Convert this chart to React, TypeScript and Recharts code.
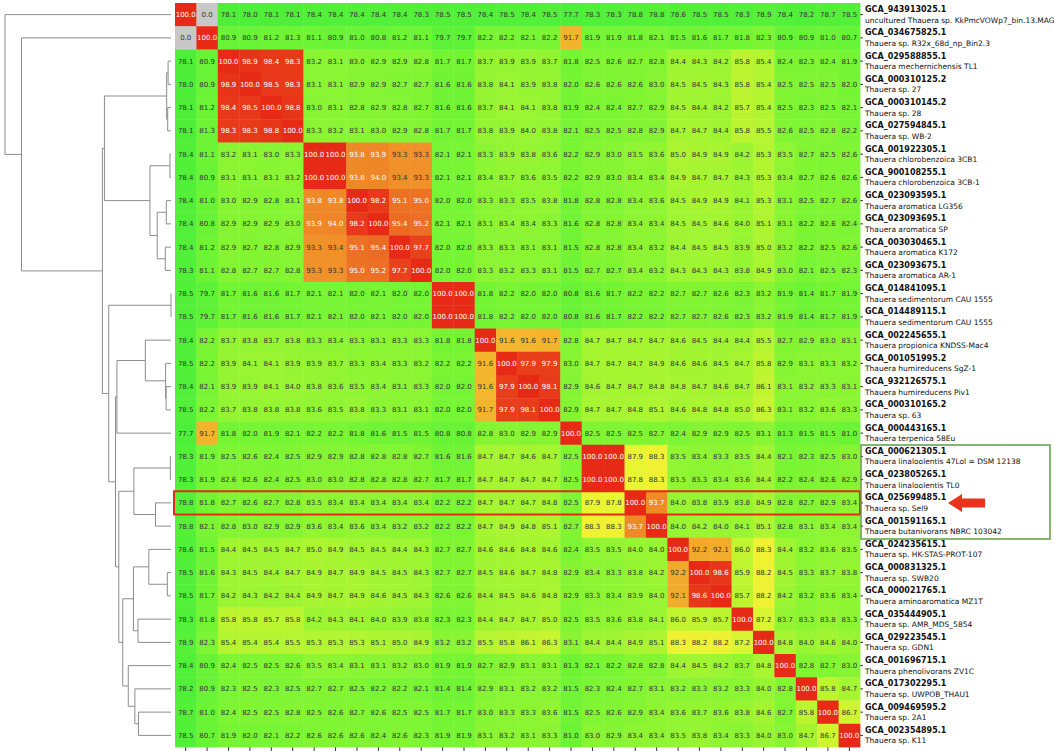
import React from "react";
import { ComposedChart, ScatterChart, Scatter, XAxis, YAxis } from "recharts";

const ids = [
  "GCA_943913025.1", "GCA_034675825.1", "GCA_029588855.1", "GCA_000310125.2", "GCA_000310145.2",
  "GCA_027594845.1", "GCA_001922305.1", "GCA_900108255.1", "GCA_023093595.1", "GCA_023093695.1",
  "GCA_003030465.1", "GCA_023093675.1", "GCA_014841095.1", "GCA_014489115.1", "GCA_002245655.1",
  "GCA_001051995.2", "GCA_932126575.1", "GCA_000310165.2", "GCA_000443165.1", "GCA_000621305.1",
  "GCA_023805265.1", "GCA_025699485.1", "GCA_001591165.1", "GCA_024235615.1", "GCA_000831325.1",
  "GCA_000021765.1", "GCA_035444905.1", "GCA_029223545.1", "GCA_001696715.1", "GCA_017302295.1",
  "GCA_009469595.2", "GCA_002354895.1",
];

const names = [
  "uncultured Thauera sp. KkPmcVOWp7_bin.13.MAG", "Thauera sp. R32x_68d_np_Bin2.3",
  "Thauera mechernichensis TL1", "Thauera sp. 27", "Thauera sp. 28", "Thauera sp. WB-2",
  "Thauera chlorobenzoica 3CB1", "Thauera chlorobenzoica 3CB-1", "Thauera aromatica LG356",
  "Thauera aromatica SP", "Thauera aromatica K172", "Thauera aromatica AR-1",
  "Thauera sedimentorum CAU 1555", "Thauera sedimentorum CAU 1555", "Thauera propionica KNDSS-Mac4",
  "Thauera humireducens SgZ-1", "Thauera humireducens Piv1", "Thauera sp. 63", "Thauera terpenica 58Eu",
  "Thauera linaloolentis 47Lol = DSM 12138", "Thauera linaloolentis TL0", "Thauera sp. Sel9",
  "Thauera butanivorans NBRC 103042", "Thauera sp. HK-STAS-PROT-107", "Thauera sp. SWB20",
  "Thauera aminoaromatica MZ1T", "Thauera sp. AMR_MDS_5854", "Thauera sp. GDN1",
  "Thauera phenolivorans ZV1C", "Thauera sp. UWPOB_THAU1", "Thauera sp. 2A1", "Thauera sp. K11",
];

// pairwise ANI (%)
const ani = [
  [100.0, 0.0, 78.1, 78.0, 78.1, 78.1, 78.4, 78.4, 78.4, 78.4, 78.4, 78.3, 78.5, 78.5, 78.4, 78.5, 78.4, 78.5, 77.7, 78.3, 78.3, 78.8, 78.8, 78.6, 78.5, 78.5, 78.3, 78.9, 78.4, 78.2, 78.7, 78.5],
  [0.0, 100.0, 80.9, 80.9, 81.2, 81.3, 81.1, 80.9, 81.0, 80.8, 81.2, 81.1, 79.7, 79.7, 82.2, 82.2, 82.1, 82.2, 91.7, 81.9, 81.9, 81.8, 82.1, 81.5, 81.6, 81.7, 81.8, 82.3, 80.9, 80.9, 81.0, 80.7],
  [78.1, 80.9, 100.0, 98.9, 98.4, 98.3, 83.2, 83.1, 83.0, 82.9, 82.9, 82.8, 81.7, 81.7, 83.7, 83.9, 83.9, 83.7, 81.8, 82.5, 82.6, 82.7, 82.8, 84.4, 84.3, 84.2, 85.8, 85.4, 82.4, 82.3, 82.4, 81.9],
  [78.0, 80.9, 98.9, 100.0, 98.5, 98.3, 83.1, 83.1, 82.9, 82.9, 82.7, 82.7, 81.6, 81.6, 83.8, 84.1, 83.9, 83.8, 82.0, 82.6, 82.6, 82.6, 83.0, 84.5, 84.5, 84.3, 85.8, 85.4, 82.5, 82.5, 82.5, 82.0],
  [78.1, 81.2, 98.4, 98.5, 100.0, 98.8, 83.0, 83.1, 82.8, 82.9, 82.8, 82.7, 81.6, 81.6, 83.7, 84.1, 84.1, 83.8, 81.9, 82.4, 82.4, 82.7, 82.9, 84.5, 84.4, 84.2, 85.7, 85.4, 82.5, 82.3, 82.5, 82.1],
  [78.1, 81.3, 98.3, 98.3, 98.8, 100.0, 83.3, 83.2, 83.1, 83.0, 82.9, 82.8, 81.7, 81.7, 83.8, 83.9, 84.0, 83.8, 82.1, 82.5, 82.5, 82.8, 82.9, 84.7, 84.7, 84.4, 85.8, 85.5, 82.6, 82.5, 82.8, 82.2],
  [78.4, 81.1, 83.2, 83.1, 83.0, 83.3, 100.0, 100.0, 93.8, 93.9, 93.3, 93.3, 82.1, 82.1, 83.3, 83.9, 83.8, 83.6, 82.2, 82.9, 83.0, 83.5, 83.6, 85.0, 84.9, 84.9, 84.2, 85.3, 83.5, 82.7, 82.5, 82.6],
  [78.4, 80.9, 83.1, 83.1, 83.1, 83.2, 100.0, 100.0, 93.8, 94.0, 93.4, 93.3, 82.1, 82.1, 83.4, 83.7, 83.6, 83.5, 82.2, 82.9, 83.0, 83.4, 83.4, 84.9, 84.7, 84.7, 84.3, 85.3, 83.4, 82.7, 82.6, 82.6],
  [78.4, 81.0, 83.0, 82.9, 82.8, 83.1, 93.8, 93.8, 100.0, 98.2, 95.1, 95.0, 82.0, 82.0, 83.3, 83.3, 83.5, 83.8, 81.8, 82.8, 82.8, 83.4, 83.6, 84.5, 84.9, 84.9, 84.1, 85.3, 83.1, 82.5, 82.7, 82.6],
  [78.4, 80.8, 82.9, 82.9, 82.9, 83.0, 93.9, 94.0, 98.2, 100.0, 95.4, 95.2, 82.1, 82.1, 83.1, 83.4, 83.4, 83.3, 81.6, 82.8, 82.8, 83.4, 83.4, 84.5, 84.5, 84.6, 84.0, 85.1, 83.1, 82.2, 82.6, 82.4],
  [78.4, 81.2, 82.9, 82.7, 82.8, 82.9, 93.3, 93.4, 95.1, 95.4, 100.0, 97.7, 82.0, 82.0, 83.3, 83.3, 83.1, 83.1, 81.5, 82.8, 82.8, 83.4, 83.2, 84.4, 84.5, 84.5, 83.9, 85.0, 83.2, 82.2, 82.5, 82.6],
  [78.3, 81.1, 82.8, 82.7, 82.7, 82.8, 93.3, 93.3, 95.0, 95.2, 97.7, 100.0, 82.0, 82.0, 83.3, 83.2, 83.3, 83.1, 81.5, 82.7, 82.7, 83.4, 83.2, 84.3, 84.3, 84.3, 83.8, 84.9, 83.0, 82.1, 82.5, 82.3],
  [78.5, 79.7, 81.7, 81.6, 81.6, 81.7, 82.1, 82.1, 82.0, 82.1, 82.0, 82.0, 100.0, 100.0, 81.8, 82.2, 82.0, 82.0, 80.8, 81.6, 81.7, 82.2, 82.2, 82.7, 82.7, 82.6, 82.3, 83.2, 81.9, 81.4, 81.7, 81.9],
  [78.5, 79.7, 81.7, 81.6, 81.6, 81.7, 82.1, 82.1, 82.0, 82.1, 82.0, 82.0, 100.0, 100.0, 81.8, 82.2, 82.0, 82.0, 80.8, 81.6, 81.7, 82.2, 82.2, 82.7, 82.7, 82.6, 82.3, 83.2, 81.9, 81.4, 81.7, 81.9],
  [78.4, 82.2, 83.7, 83.8, 83.7, 83.8, 83.3, 83.4, 83.3, 83.1, 83.3, 83.3, 81.8, 81.8, 100.0, 91.6, 91.6, 91.7, 82.8, 84.7, 84.7, 84.7, 84.7, 84.6, 84.5, 84.4, 84.4, 85.5, 82.7, 82.9, 83.0, 83.1],
  [78.5, 82.2, 83.9, 84.1, 84.1, 83.9, 83.9, 83.7, 83.3, 83.4, 83.3, 83.2, 82.2, 82.2, 91.6, 100.0, 97.9, 97.9, 83.0, 84.7, 84.7, 84.7, 84.9, 84.6, 84.6, 84.5, 84.7, 85.8, 82.9, 83.1, 83.3, 83.2],
  [78.4, 82.1, 83.9, 83.9, 84.1, 84.0, 83.8, 83.6, 83.5, 83.4, 83.1, 83.3, 82.0, 82.0, 91.6, 97.9, 100.0, 98.1, 82.9, 84.6, 84.7, 84.7, 84.8, 84.8, 84.7, 84.6, 84.7, 86.1, 83.1, 83.2, 83.3, 83.1],
  [78.5, 82.2, 83.7, 83.8, 83.8, 83.8, 83.6, 83.5, 83.8, 83.3, 83.1, 83.1, 82.0, 82.0, 91.7, 97.9, 98.1, 100.0, 82.9, 84.7, 84.7, 84.8, 85.1, 84.6, 84.8, 84.8, 85.0, 86.3, 83.1, 83.2, 83.6, 83.3],
  [77.7, 91.7, 81.8, 82.0, 81.9, 82.1, 82.2, 82.2, 81.8, 81.6, 81.5, 81.5, 80.8, 80.8, 82.8, 83.0, 82.9, 82.9, 100.0, 82.5, 82.5, 82.5, 82.7, 82.4, 82.9, 82.9, 82.5, 83.1, 81.3, 81.5, 81.5, 81.0],
  [78.3, 81.9, 82.5, 82.6, 82.4, 82.5, 82.9, 82.9, 82.8, 82.8, 82.8, 82.7, 81.6, 81.6, 84.7, 84.7, 84.6, 84.7, 82.5, 100.0, 100.0, 87.9, 88.3, 83.5, 83.4, 83.3, 83.5, 84.4, 82.1, 82.3, 82.5, 83.0],
  [78.3, 81.9, 82.6, 82.6, 82.4, 82.5, 83.0, 83.0, 82.8, 82.8, 82.8, 82.7, 81.7, 81.7, 84.7, 84.7, 84.7, 84.7, 82.5, 100.0, 100.0, 87.8, 88.3, 83.5, 83.3, 83.4, 83.6, 84.4, 82.2, 82.4, 82.6, 82.9],
  [78.8, 81.8, 82.7, 82.6, 82.7, 82.8, 83.5, 83.4, 83.4, 83.4, 83.4, 83.4, 82.2, 82.2, 84.7, 84.7, 84.7, 84.8, 82.5, 87.9, 87.8, 100.0, 93.7, 84.0, 83.8, 83.9, 83.8, 84.9, 82.8, 82.7, 82.9, 83.4],
  [78.8, 82.1, 82.8, 83.0, 82.9, 82.9, 83.6, 83.4, 83.6, 83.4, 83.2, 83.2, 82.2, 82.2, 84.7, 84.9, 84.8, 85.1, 82.7, 88.3, 88.3, 93.7, 100.0, 84.0, 84.2, 84.0, 84.1, 85.1, 82.8, 83.1, 83.4, 83.4],
  [78.6, 81.5, 84.4, 84.5, 84.5, 84.7, 85.0, 84.9, 84.5, 84.5, 84.4, 84.3, 82.7, 82.7, 84.6, 84.6, 84.8, 84.6, 82.4, 83.5, 83.5, 84.0, 84.0, 100.0, 92.2, 92.1, 86.0, 88.3, 84.4, 83.2, 83.6, 83.5],
  [78.5, 81.6, 84.3, 84.5, 84.4, 84.7, 84.9, 84.7, 84.9, 84.5, 84.5, 84.3, 82.7, 82.7, 84.5, 84.6, 84.7, 84.8, 82.9, 83.4, 83.3, 83.8, 84.2, 92.2, 100.0, 98.6, 85.9, 88.2, 84.5, 83.3, 83.7, 83.8],
  [78.5, 81.7, 84.2, 84.3, 84.2, 84.4, 84.9, 84.7, 84.9, 84.6, 84.5, 84.3, 82.6, 82.6, 84.4, 84.5, 84.6, 84.8, 82.9, 83.3, 83.4, 83.9, 84.0, 92.1, 98.6, 100.0, 85.7, 88.2, 84.2, 83.2, 83.6, 83.4],
  [78.3, 81.8, 85.8, 85.8, 85.7, 85.8, 84.2, 84.3, 84.1, 84.0, 83.9, 83.8, 82.3, 82.3, 84.4, 84.7, 84.7, 85.0, 82.5, 83.5, 83.6, 83.8, 84.1, 86.0, 85.9, 85.7, 100.0, 87.2, 83.7, 83.3, 83.8, 83.3],
  [78.9, 82.3, 85.4, 85.4, 85.4, 85.5, 85.3, 85.3, 85.3, 85.1, 85.0, 84.9, 83.2, 83.2, 85.5, 85.8, 86.1, 86.3, 83.1, 84.4, 84.4, 84.9, 85.1, 88.3, 88.2, 88.2, 87.2, 100.0, 84.8, 84.0, 84.6, 84.0],
  [78.4, 80.9, 82.4, 82.5, 82.5, 82.6, 83.5, 83.4, 83.1, 83.1, 83.2, 83.0, 81.9, 81.9, 82.7, 82.9, 83.1, 83.1, 81.3, 82.1, 82.2, 82.8, 82.8, 84.4, 84.5, 84.2, 83.7, 84.8, 100.0, 82.8, 82.7, 83.0],
  [78.2, 80.9, 82.3, 82.5, 82.3, 82.5, 82.7, 82.7, 82.5, 82.2, 82.2, 82.1, 81.4, 81.4, 82.9, 83.1, 83.2, 83.2, 81.5, 82.3, 82.4, 82.7, 83.1, 83.2, 83.3, 83.2, 83.3, 84.0, 82.8, 100.0, 85.8, 84.7],
  [78.7, 81.0, 82.4, 82.5, 82.5, 82.8, 82.5, 82.6, 82.7, 82.6, 82.5, 82.5, 81.7, 81.7, 83.0, 83.3, 83.3, 83.6, 81.5, 82.5, 82.6, 82.9, 83.4, 83.6, 83.7, 83.6, 83.8, 84.6, 82.7, 85.8, 100.0, 86.7],
  [78.5, 80.7, 81.9, 82.0, 82.1, 82.2, 82.6, 82.6, 82.6, 82.4, 82.6, 82.3, 81.9, 81.9, 83.1, 83.2, 83.1, 83.3, 81.0, 83.0, 82.9, 83.4, 83.4, 83.5, 83.8, 83.4, 83.3, 84.0, 83.0, 84.7, 86.7, 100.0],
];

// dendrogram merges: [child a, child b, height]; ids >= 32 refer to earlier merges
const merges: [number, number, number][] = [
  [12, 13, 0.0], [19, 20, 0.37], [6, 7, 0.6], [2, 3, 1.68], [4, 5, 1.91], [24, 25, 2.14],
  [35, 36, 2.52], [8, 9, 2.75], [16, 17, 2.84], [15, 40, 3.13], [10, 11, 3.32], [39, 42, 8.0],
  [21, 22, 9.01], [34, 43, 12.23], [23, 37, 12.88], [14, 41, 14.91], [30, 31, 18.92], [26, 27, 19.17],
  [29, 48, 20.99], [33, 44, 21.56], [46, 49, 21.82], [28, 50, 24.82], [52, 53, 28.03], [51, 54, 30.33],
  [47, 18, 31.41], [56, 55, 32.23], [32, 57, 36.19], [38, 45, 38.67], [59, 58, 39.85], [1, 60, 86.84],
  [0, 61, 96.43],
];

const highlightRow = 21;

const W = 1054;
const H = 751;
const LEFT = 175;
const RIGHT_W = 194;
const TOP = 3;
const BOTTOM = 4;
const N = ids.length;
const PLOT_W = W - LEFT - RIGHT_W;
const CELL_W = PLOT_W / N;
const CELL_H = (H - TOP - BOTTOM) / N;
const FONT = "'DejaVu Sans', sans-serif";

const cells = ani.flatMap((row, r) => row.map((v, c) => ({ x: c + 0.5, y: r + 0.5, v })));
const centers = ids.map((_, i) => i + 0.5);

const stops: [number, number[]][] = [
  [77, [70, 238, 58]], [80, [95, 242, 55]], [82, [118, 245, 52]], [84, [152, 245, 50]],
  [86, [192, 245, 48]], [88, [236, 245, 50]], [89, [245, 232, 50]], [91.7, [243, 180, 45]],
  [93.5, [240, 142, 40]], [96, [235, 96, 32]], [98, [232, 60, 26]], [100, [230, 42, 22]],
];

function cellColor(v: number) {
  if (v < 50) return "#c8c8c8";
  if (v <= stops[0][0]) return `rgb(${stops[0][1].join(",")})`;
  for (let i = 1; i < stops.length; i++) {
    const [v1, c1] = stops[i];
    const [v0, c0] = stops[i - 1];
    if (v <= v1) {
      const t = (v - v0) / (v1 - v0);
      const c = c0.map((a, k) => Math.round(a + (c1[k] - a) * t));
      return `rgb(${c.join(",")})`;
    }
  }
  return `rgb(${stops[stops.length - 1][1].join(",")})`;
}

function HeatCell(props: any) {
  const { cx, cy, payload } = props;
  const v: number = payload.v;
  return (
    <g>
      <rect x={cx - CELL_W / 2} y={cy - CELL_H / 2} width={CELL_W + 0.4} height={CELL_H + 0.4} fill={cellColor(v)} />
      <text x={cx} y={cy} dy="0.35em" textAnchor="middle" fontSize={7} fontFamily={FONT} fill={v >= 93.5 ? "#ffffff" : "#333333"}>
        {v.toFixed(1)}
      </text>
    </g>
  );
}

function RowLabel(props: any) {
  const { x, y, payload } = props;
  const i = Math.floor(payload.value);
  return (
    <g>
      <text x={x} y={y - 2.5} fontSize={8} fontWeight="bold" fontFamily={FONT} fill="#111">{ids[i]}</text>
      <text x={x} y={y + 8} fontSize={7.5} fontFamily={FONT} fill="#111">{names[i]}</text>
    </g>
  );
}

// dendrogram links
const nodeY: number[] = centers.slice();
const nodeH: number[] = ids.map(() => 0);
const links = merges.map(([a, b, h]) => {
  const pts = [
    { x: nodeH[a], y: nodeY[a] },
    { x: h, y: nodeY[a] },
    { x: h, y: nodeY[b] },
    { x: nodeH[b], y: nodeY[b] },
  ];
  nodeY.push((nodeY[a] + nodeY[b]) / 2);
  nodeH.push(h);
  return pts;
});
const maxH = merges[merges.length - 1][2];

const NoDot = () => <g />;

export default function App() {
  return (
    <div style={{ position: "absolute", left: 0, top: 0, width: W, height: H, background: "#fff" }}>
      <div style={{ position: "absolute", left: 0, top: 0 }}>
        <ScatterChart width={LEFT} height={H} margin={{ top: TOP, bottom: BOTTOM, left: 5, right: 4 }}>
          <XAxis type="number" dataKey="x" domain={[0, maxH]} reversed hide />
          <YAxis type="number" dataKey="y" domain={[0, N]} reversed hide />
          {links.map((pts, i) => (
            <Scatter
              key={i}
              data={pts}
              line={{ stroke: "#8c8c8c", strokeWidth: 1 }}
              lineType="joint"
              shape={NoDot}
              isAnimationActive={false}
            />
          ))}
        </ScatterChart>
      </div>
      <div style={{ position: "absolute", left: 0, top: 0 }}>
        <ComposedChart width={W} height={H} margin={{ top: 0, right: 0, bottom: 0, left: LEFT }}>
          <XAxis
            type="number"
            dataKey="x"
            domain={[0, N]}
            ticks={centers}
            tickFormatter={() => ""}
            height={BOTTOM}
            tickSize={4}
            axisLine={false}
            tickLine={{ stroke: "#333" }}
            interval={0}
          />
          <XAxis
            xAxisId="top"
            orientation="top"
            type="number"
            domain={[0, N]}
            ticks={centers}
            tickFormatter={() => ""}
            height={TOP}
            tickSize={3}
            axisLine={false}
            tickLine={{ stroke: "#333" }}
            interval={0}
          />
          <YAxis
            orientation="right"
            type="number"
            dataKey="y"
            domain={[0, N]}
            reversed
            ticks={centers}
            interval={0}
            width={RIGHT_W}
            tickSize={3}
            axisLine={false}
            tickLine={{ stroke: "#333" }}
            tick={(p: any) => <RowLabel {...p} />}
          />
          <Scatter data={cells} shape={HeatCell} isAnimationActive={false} />
        </ComposedChart>
      </div>
      <svg width={W} height={H} style={{ position: "absolute", left: 0, top: 0, pointerEvents: "none" }}>
        <rect
          x={LEFT - 1}
          y={TOP + highlightRow * CELL_H}
          width={PLOT_W + 1}
          height={CELL_H}
          fill="none"
          stroke="#e8281a"
          strokeWidth={2}
        />
        <rect x={861} y={445} width={189} height={94} fill="none" stroke="#5e9e3e" strokeWidth={1.5} />
        <polygon points="948,503 962,494 962,498.5 985,498.5 985,507.5 962,507.5 962,512" fill="#e8341c" />
      </svg>
    </div>
  );
}
